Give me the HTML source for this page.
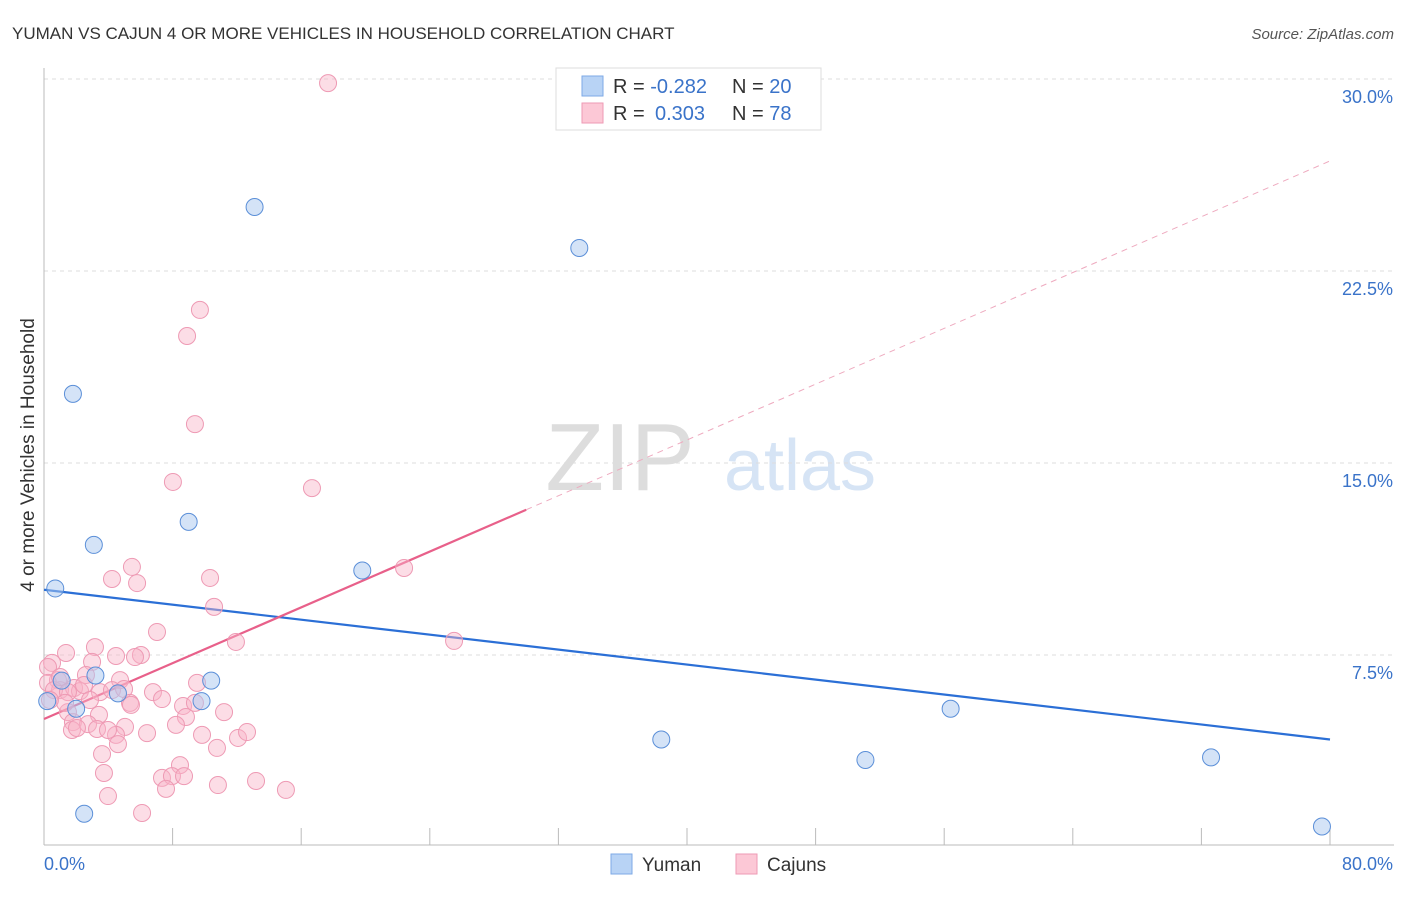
<!DOCTYPE html>
<html><head><meta charset="utf-8"><style>
body{margin:0;background:#fff;font-family:"Liberation Sans",sans-serif;}
svg text{font-family:"Liberation Sans",sans-serif;}
</style></head><body>
<svg id="chart" width="1406" height="892" xmlns="http://www.w3.org/2000/svg">
<text x="12" y="39" font-size="17" fill="#333">YUMAN VS CAJUN 4 OR MORE VEHICLES IN HOUSEHOLD CORRELATION CHART</text>
<text x="1394" y="39" font-size="15" fill="#555" text-anchor="end" font-style="italic">Source: ZipAtlas.com</text>
<text x="620" y="490" font-size="96" fill="#ddd" font-family="Liberation Serif" text-anchor="middle">ZIP</text>
<text x="800" y="490" font-size="72" fill="#d6e4f5" text-anchor="middle">atlas</text>
<g id="grid"></g>
<g id="axes"></g>
<text transform="translate(34,455) rotate(-90)" font-size="19" fill="#333" text-anchor="middle">4 or more Vehicles in Household</text>
<g id="lines"></g>
<g id="pts"></g>
<g>
<rect x="556" y="68" width="265" height="62" fill="#fff" stroke="#ddd"/>
<rect x="582" y="76" width="21" height="20" fill="#b8d3f5" stroke="#7eaae6"/>
<rect x="582" y="103" width="21" height="20" fill="#fcc8d6" stroke="#ee9ab4"/>
<text x="613" y="93" font-size="20" fill="#333">R = <tspan fill="#3a73c9">-0.282</tspan><tspan x="732">N = </tspan><tspan fill="#3a73c9">20</tspan></text>
<text x="613" y="120" font-size="20" fill="#333">R = <tspan x="655" fill="#3a73c9">0.303</tspan><tspan x="732">N = </tspan><tspan fill="#3a73c9">78</tspan></text>
</g>
<g>
<rect x="611" y="854" width="21" height="20" fill="#b8d3f5" stroke="#7eaae6"/>
<text x="642" y="871" font-size="19" fill="#333">Yuman</text>
<rect x="736" y="854" width="21" height="20" fill="#fcc8d6" stroke="#ee9ab4"/>
<text x="767" y="871" font-size="19" fill="#333">Cajuns</text>
</g>
</svg>
<script>
const yTicks=[7.5,15,22.5,30];
const yTickLabels=["7.5%","15.0%","22.5%","30.0%"];
const yumanX=[0.2,0.7,1.8,3.1,1.1,2.0,2.5,3.2,4.6,9.0,9.8,10.4,13.1,19.8,33.3,38.4,51.1,56.4,72.6,79.5];
const yumanY=[5.7,10.1,17.7,11.8,6.5,5.4,1.3,6.7,6.0,12.7,5.7,6.5,25.0,10.8,23.4,4.2,3.4,5.4,3.5,0.8];
const cajunPx=[[328,83],[200,310],[187,336],[195,424],[173,482],[312,488],[404,568],[132,567],[112,579],[137,583],[210,578],[214,607],[157,632],[454,641],[236,642],[95,647],[66,653],[52,663],[116,656],[141,655],[135,657],[92,662],[48,667],[58,680],[48,683],[120,680],[86,675],[197,683],[60,690],[74,688],[80,691],[100,692],[112,690],[124,689],[153,692],[162,699],[54,690],[68,692],[130,703],[183,706],[224,712],[99,715],[68,712],[186,717],[73,722],[125,727],[176,725],[88,724],[97,729],[72,730],[77,728],[116,735],[202,735],[238,738],[247,732],[147,733],[118,744],[217,748],[102,754],[180,765],[162,778],[172,776],[184,776],[166,789],[104,773],[218,785],[256,781],[286,790],[108,796],[142,813],[65,703],[84,685],[90,700],[60,677],[108,730],[131,705],[50,700],[195,703]];
const cajunX=cajunPx.map(p=>+((p[0]-44)/1286*80).toFixed(2));
const cajunY=cajunPx.map(p=>+((847-p[1])/192*7.5).toFixed(2));
const yumanLine=[10.05,4.2];
const cajunLine=[5.0,26.8];
const cajunSolidEnd=30;
const X=v=>44+v/80*1286, Y=v=>847-v/7.5*192;
const NS="http://www.w3.org/2000/svg";
function mk(tag,attrs,parent){const e=document.createElementNS(NS,tag);for(const k in attrs)e.setAttribute(k,attrs[k]);parent.appendChild(e);return e;}
const grid=document.getElementById('grid'),axes=document.getElementById('axes');
yTicks.forEach((t,i)=>{
 const l=mk('line',{x1:44,x2:1394,y1:Y(t),y2:Y(t),stroke:'#ddd','stroke-dasharray':'4,4'},grid);
 
 
 const tx=mk('text',{x:1393,y:Y(t)+24,'font-size':18,fill:'#3a73c9','text-anchor':'end'},axes);
 tx.textContent=yTickLabels[i];
 
 
});
mk('line',{x1:44,x2:44,y1:68,y2:845,stroke:'#bbb'},axes);
mk('line',{x1:44,x2:1394,y1:845,y2:845,stroke:'#bbb'},axes);
for(let i=0;i<=10;i++){const t=mk('line',{x1:X(i*8),x2:X(i*8),y1:828,y2:845,stroke:'#bbb'},axes);
 
 }
const x0=mk('text',{x:44,y:870,'font-size':18,fill:'#3a73c9'},axes);x0.textContent='0.0%';


const x1=mk('text',{x:1393,y:870,'font-size':18,fill:'#3a73c9','text-anchor':'end'},axes);x1.textContent='80.0%';


const pts=document.getElementById('pts');
cajunX.forEach((v,i)=>{const c=mk('circle',{cx:X(v),cy:Y(cajunY[i]),r:8.5,fill:'rgba(248,180,200,0.45)',stroke:'#ee9ab4','stroke-width':1},pts);
 
 });
yumanX.forEach((v,i)=>{const c=mk('circle',{cx:X(v),cy:Y(yumanY[i]),r:8.5,fill:'rgba(170,200,240,0.5)',stroke:'#5b8fd8','stroke-width':1},pts);
 
 });
const lines=document.getElementById('lines');
const bl=mk('line',{x1:X(0),y1:Y(yumanLine[0]),x2:X(80),y2:Y(yumanLine[1]),stroke:'#2b6fd6','stroke-width':2.2},lines);


const cy=x=>cajunLine[0]+(cajunLine[1]-cajunLine[0])*x/80;
const pl=mk('line',{x1:X(0),y1:Y(cy(0)),x2:X(cajunSolidEnd),y2:Y(cy(cajunSolidEnd)),stroke:'#e8608a','stroke-width':2.2},lines);


const pd=mk('line',{x1:X(cajunSolidEnd),y1:Y(cy(cajunSolidEnd)),x2:X(80),y2:Y(cy(80)),stroke:'#eeaabf','stroke-width':1,'stroke-dasharray':'6,5'},lines);


</script>
</body></html>
